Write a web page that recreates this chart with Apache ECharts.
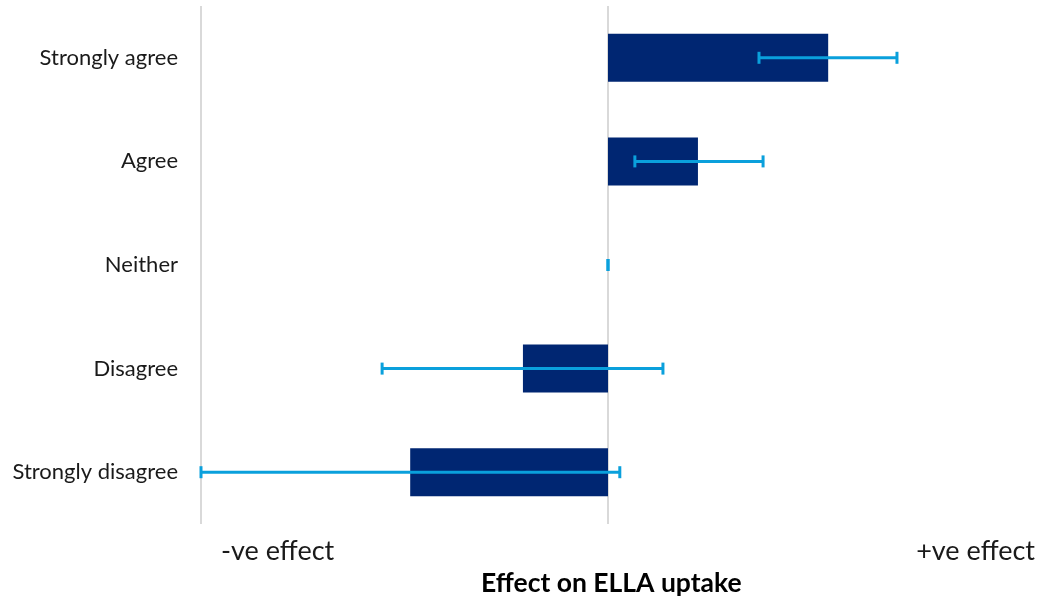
<!DOCTYPE html>
<html><head><meta charset="utf-8">
<script src="https://cdn.jsdelivr.net/npm/echarts@6/dist/echarts.min.js"></script>
<style>html,body{margin:0;padding:0;background:#fff}#c{width:1040px;height:599px}</style>
</head><body><div id="c"></div>
<script>
const categories = ['Strongly agree','Agree','Neither','Disagree','Strongly disagree'];
const values = [0.541, 0.221, 0, -0.209, -0.486];
const errLow = [0.371, 0.066, 0, -0.555, -1.0];
const errHigh = [0.710, 0.381, 0, 0.135, 0.029];
const endLabels = ['-ve effect', '+ve effect'];
const axisTitle = 'Effect on ELLA uptake';

const FONT = 'Lato';
const chart = echarts.init(document.getElementById('c'));
const errData = categories.map((c, i) => [errLow[i], i, errHigh[i]]);
chart.setOption({
  animation: false,
  grid: {left: 201, right: 25, top: 6, height: 518, containLabel: false},
  xAxis: {
    type: 'value', min: -1, max: 1, interval: 1,
    axisLine: {show: false}, axisTick: {show: false}, axisLabel: {show: false},
    splitLine: {show: true, lineStyle: {color: ['#d9d9d9', '#d9d9d9', 'rgba(0,0,0,0)'], width: 2}}
  },
  yAxis: {
    type: 'category', data: categories, inverse: true,
    axisLine: {show: false}, axisTick: {show: false},
    axisLabel: {fontFamily: FONT, fontSize: 22, color: '#1a1a1a', margin: 23}
  },
  series: [
    {type: 'bar', data: values, barWidth: 48, itemStyle: {color: '#002672'}},
    {type: 'custom', data: errData, encode: {x: [0, 2], y: 1}, z: 5,
      renderItem: function (params, api) {
        const idx = api.value(1);
        const lo = api.coord([api.value(0), idx]);
        const hi = api.coord([api.value(2), idx]);
        const y = lo[1];
        const h = 6;
        const style = {stroke: '#0aa0dc', lineWidth: 3};
        return {type: 'group', children: [
          {type: 'line', shape: {x1: lo[0], y1: y, x2: hi[0], y2: y}, style},
          {type: 'line', shape: {x1: lo[0], y1: y - h, x2: lo[0], y2: y + h}, style},
          {type: 'line', shape: {x1: hi[0], y1: y - h, x2: hi[0], y2: y + h}, style}
        ]};
      }
    }
  ],
  graphic: [
    {type: 'text', left: 221, top: 538, style: {text: endLabels[0], font: '27px ' + FONT, fill: '#1a1a1a'}},
    {type: 'text', right: 5, top: 538, style: {text: endLabels[1], font: '27px ' + FONT, fill: '#1a1a1a'}},
    {type: 'text', left: 481, top: 570, style: {text: axisTitle, font: 'bold 26.5px ' + FONT, fill: '#000'}}
  ]
});
</script></body></html>
